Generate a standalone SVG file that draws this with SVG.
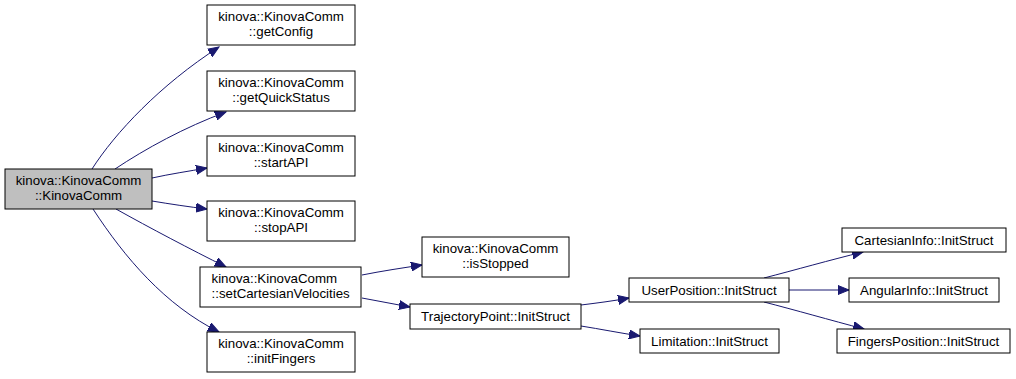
<svg xmlns="http://www.w3.org/2000/svg" width="1016" height="379" viewBox="0 0 1016 379">
  <style>
    .node rect { fill: #ffffff; stroke: #000000; stroke-width: 1; }
    .node.current rect { fill: #bfbfbf; }
    .node text { font-family: "Liberation Sans", Arial, sans-serif; font-size: 13.3px; fill: #000000; text-anchor: middle; }
    .node text.left { text-anchor: start; }
    .edge { fill: none; stroke: #191970; stroke-width: 1; marker-end: url(#arrow); }
  </style>
  <defs>
    <marker id="arrow" viewBox="0 0 12 10" refX="11" refY="5" markerWidth="12" markerHeight="10" markerUnits="userSpaceOnUse" orient="auto">
      <path d="M0,0.5 L11,5 L0,9.5 Z" fill="#191970" stroke="#191970"/>
    </marker>
  </defs>
  <rect width="1016" height="379" fill="#ffffff"/>

  <g id="connectors">
    <path class="edge" d="M92,169 C115,133 160,85 219,47"/>
    <path class="edge" d="M115,169 C145,149 185,127 226,112"/>
    <path class="edge" d="M152,178 C170,174 190,171 207,168"/>
    <path class="edge" d="M152,201 C170,204 190,207 207,209"/>
    <path class="edge" d="M116,209 C150,228 190,249 226,267"/>
    <path class="edge" d="M93,209 C125,258 165,305 219,332"/>
    <path class="edge" d="M362,275 C382,271 402,268 422,265"/>
    <path class="edge" d="M362,298 C378,301 394,304 410,307"/>
    <path class="edge" d="M581,305 C597,303 613,301 629,298"/>
    <path class="edge" d="M581,326 C600,329 620,333 640,336"/>
    <path class="edge" d="M764,278 C795,270 830,260 863,252"/>
    <path class="edge" d="M789,290 L849,290"/>
    <path class="edge" d="M764,302 C795,310 830,320 864,329"/>
  </g>

  <g id="node-kinovacomm" class="node current">
    <rect x="5" y="169" width="147" height="40"/>
    <text x="78.5" y="185">kinova::KinovaComm</text>
    <text x="78.5" y="200">::KinovaComm</text>
  </g>
  <g id="node-getconfig" class="node">
    <rect x="207" y="5" width="148" height="40"/>
    <text x="281" y="21">kinova::KinovaComm</text>
    <text x="281" y="36">::getConfig</text>
  </g>
  <g id="node-getquickstatus" class="node">
    <rect x="207" y="71" width="148" height="40"/>
    <text x="281" y="87">kinova::KinovaComm</text>
    <text x="281" y="102">::getQuickStatus</text>
  </g>
  <g id="node-startapi" class="node">
    <rect x="207" y="136" width="148" height="40"/>
    <text x="281" y="152">kinova::KinovaComm</text>
    <text x="281" y="167">::startAPI</text>
  </g>
  <g id="node-stopapi" class="node">
    <rect x="207" y="201" width="148" height="40"/>
    <text x="281" y="217">kinova::KinovaComm</text>
    <text x="281" y="232">::stopAPI</text>
  </g>
  <g id="node-setcartesianvelocities" class="node">
    <rect x="200" y="267" width="161" height="40"/>
    <text class="left" x="211.5" y="283">kinova::KinovaComm</text>
    <text class="left" x="211.5" y="298">::setCartesianVelocities</text>
  </g>
  <g id="node-initfingers" class="node">
    <rect x="207" y="332" width="148" height="40"/>
    <text x="281" y="348">kinova::KinovaComm</text>
    <text x="281" y="363">::initFingers</text>
  </g>
  <g id="node-isstopped" class="node">
    <rect x="422" y="237" width="147" height="40"/>
    <text x="495.5" y="253">kinova::KinovaComm</text>
    <text x="495.5" y="268">::isStopped</text>
  </g>
  <g id="node-trajectorypoint" class="node">
    <rect x="410" y="304" width="171" height="25"/>
    <text x="495.5" y="321">TrajectoryPoint::InitStruct</text>
  </g>
  <g id="node-userposition" class="node">
    <rect x="629" y="278" width="160" height="24"/>
    <text x="709" y="295">UserPosition::InitStruct</text>
  </g>
  <g id="node-limitation" class="node">
    <rect x="640" y="329" width="139" height="24"/>
    <text x="709.5" y="346">Limitation::InitStruct</text>
  </g>
  <g id="node-cartesianinfo" class="node">
    <rect x="842" y="228" width="164" height="24"/>
    <text x="924" y="245">CartesianInfo::InitStruct</text>
  </g>
  <g id="node-angularinfo" class="node">
    <rect x="849" y="278" width="150" height="24"/>
    <text x="924" y="295">AngularInfo::InitStruct</text>
  </g>
  <g id="node-fingersposition" class="node">
    <rect x="837" y="329" width="173" height="24"/>
    <text x="923.5" y="346">FingersPosition::InitStruct</text>
  </g>
</svg>
